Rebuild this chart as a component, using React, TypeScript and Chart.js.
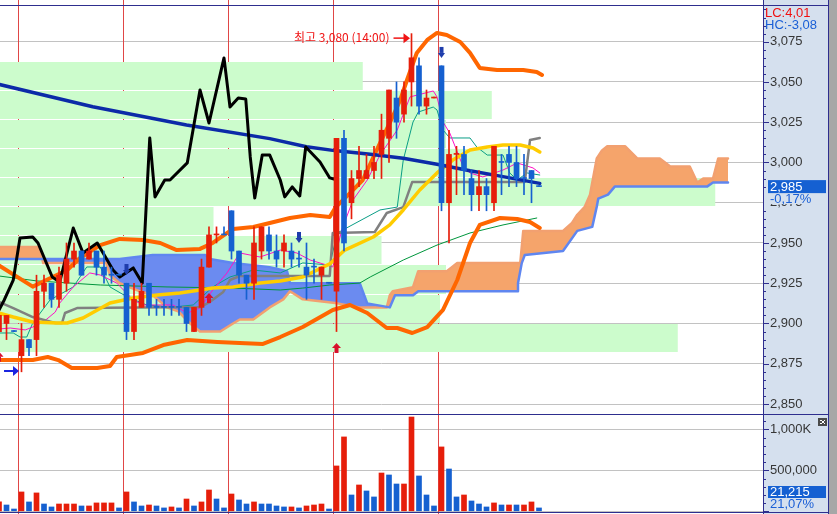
import React, { useEffect, useRef } from 'react';
import { Chart, registerables } from 'chart.js';

Chart.register(...registerables);

// ---------------- data ----------------
const opens = [2895, 2900, 2895, 2880, 2890, 2890, 2920, 2925, 2915, 2925,
  2940, 2945, 2940, 2945, 2935, 2930, 2930, 2925, 2895, 2910,
  2925, 2910, 2910, 2910, 2910, 2910, 2895, 2910, 2935, 2955,
  2955, 2970, 2945, 2930, 2925, 2945, 2955, 2945, 2945, 2945,
  2940, 2935, 2935, 2930, 2925, 2920, 3015, 2975, 2990, 2990,
  2995, 3005, 3015, 3040, 3030, 3050, 3060, 3035, 3040, 3060,
  2975, 3005, 3005, 2990, 2980, 2985, 2975, 3000, 3005, 3000,
  2990, 2995, 2985];
const highs = [2910, 2905, 2895, 2900, 2890, 2930, 2930, 2925, 2935, 2950,
  2950, 2945, 2950, 2945, 2945, 2935, 2930, 2925, 2925, 2925,
  2925, 2915, 2915, 2915, 2915, 2910, 2910, 2940, 2960, 2960,
  2960, 2970, 2945, 2930, 2960, 2960, 2960, 2955, 2955, 2950,
  2945, 2950, 2940, 2935, 2925, 3015, 3020, 2995, 3010, 3005,
  3010, 3030, 3045, 3050, 3050, 3080, 3065, 3045, 3040, 3060,
  3020, 3010, 3010, 2995, 2995, 2990, 3010, 3005, 3010, 3010,
  3005, 2995, 2985];
const lows = [2890, 2890, 2895, 2870, 2880, 2880, 2910, 2910, 2910, 2920,
  2935, 2930, 2940, 2930, 2925, 2925, 2930, 2890, 2890, 2910,
  2905, 2905, 2905, 2905, 2905, 2895, 2895, 2905, 2935, 2950,
  2955, 2940, 2925, 2915, 2915, 2940, 2940, 2935, 2935, 2935,
  2935, 2915, 2925, 2915, 2925, 2895, 2945, 2965, 2985, 2990,
  2990, 2990, 3000, 3015, 3025, 3035, 3030, 3030, 3040, 2970,
  2950, 2980, 2980, 2970, 2970, 2970, 2970, 2980, 2985, 2985,
  2980, 2975, 2985];
const closes = [2905, 2905, 2895, 2890, 2885, 2920, 2925, 2915, 2930, 2940,
  2945, 2930, 2945, 2935, 2930, 2930, 2930, 2895, 2915, 2920,
  2910, 2910, 2910, 2910, 2910, 2900, 2910, 2935, 2955, 2955,
  2955, 2945, 2930, 2925, 2950, 2960, 2945, 2940, 2950, 2940,
  2940, 2930, 2935, 2935, 2925, 3015, 2950, 2990, 2995, 2995,
  3000, 3020, 3045, 3025, 3045, 3065, 3035, 3040, 3040, 2975,
  3005, 3005, 2995, 2980, 2985, 2980, 3010, 3000, 3000, 2990,
  2990, 2990, 2985];
const redDojiBars = [29, 58, 61];

// volume, thousand shares
const volumes = [114, 77, 28, 236, 114, 224, 89, 53, 89, 89,
  89, 65, 65, 102, 102, 102, 41, 236, 114, 65,
  77, 65, 41, 53, 41, 150, 65, 114, 260, 150,
  41, 211, 138, 89, 114, 89, 89, 65, 53, 53,
  41, 65, 77, 89, 28, 553, 907, 199, 321, 248,
  175, 467, 443, 333, 333, 1150, 431, 199, 65, 785,
  516, 175, 199, 126, 89, 53, 102, 77, 77, 77,
  77, 114, 41];
const volumeSides = ('RBBRBRBBRR' + 'RBRRRRBRBB' + 'RBBRBRBRRB' + 'BRBBRBBBBR' +
  'BRRRBRRBRB' + 'BRBBRRBBBR' + 'BBRBBBRBRB' + 'RRB').split('');

const priceTicks = [2850, 2875, 2900, 2925, 2950, 2975, 3000, 3025, 3050, 3075];
const volumeTicks = [0, 500, 1000];
const sessionStartBars = [3, 17, 31, 45, 59];

// volume-at-price bands: price edges (top to bottom) and reach on the bar axis
const profileEdges = [3063.2, 3045.1, 3027.1, 3009.0, 2990.9, 2972.8, 2954.8, 2936.7, 2918.6, 2900.6, 2882.5];
const profileReach = [48.5, 65.7, 59.6, 69.5, 95.5, 28.6, 51.0, 59.6, 58.8, 90.5];

// overlay lines: [bar position, price]
const maLong = [[0, 3048.5], [12.5, 3034.6], [25, 3023.3], [36.1, 3014.8], [41, 3009.8], [45, 3007.2],
  [49.5, 3005.1], [53.9, 3002.6], [58.4, 2998.9], [62.8, 2994.8], [67.2, 2991.2], [72.1, 2987.0]];
const blackLine = [[0, 2908.4], [0.7, 2914.6], [1.9, 2927], [2.8, 2953.1], [4.5, 2953.7], [5.2, 2950],
  [7.1, 2928.9], [8.1, 2925.8], [9.9, 2959.3], [11.2, 2943.8], [13.1, 2950], [15.2, 2933.2],
  [16.1, 2928.9], [17.9, 2934.5], [19.1, 2925.1], [19.7, 2979.8], [20.1, 3015.2], [20.8, 2978.6],
  [22.1, 2989.1], [22.8, 2989.1], [25.1, 2999.7], [26.8, 3045], [28, 3024.5], [30, 3064.9],
  [30.8, 3034.4], [31.9, 3040], [32.9, 3039.4], [33.5, 3003.4], [34.1, 2977.9], [35.1, 3004.6],
  [36.1, 3004.6], [37.5, 2989.1], [38.1, 2978.6], [39.1, 2984.8], [40.1, 2979.2], [40.9, 3009.6],
  [42.8, 3000.3], [44.1, 2990.4], [45.1, 2989.1]];
const bollUpper = [[0, 2936], [4.5, 2922.9], [9.1, 2933.2], [10.8, 2940.7], [13.5, 2948.7], [16.1, 2952.5],
  [19.2, 2951.9], [21.5, 2950], [23.7, 2945.6], [26.8, 2946.3], [28.5, 2950], [31.2, 2958.7],
  [33.9, 2959.9], [36.1, 2962.4], [38.8, 2965.5], [41.5, 2967.4], [44.1, 2966.1], [44.9, 2972.3],
  [46.8, 2981], [48.5, 2989.1], [50.8, 3012.1], [52.1, 3024.5], [53.5, 3038.8], [54.4, 3051.2],
  [55.7, 3068], [57.1, 3076.1], [58.4, 3080.4], [59.7, 3079.2], [61.5, 3074.8], [62.8, 3068],
  [64.1, 3058.7], [66.4, 3057.4], [69.9, 3057.4], [71.7, 3056.2], [72.4, 3054.3]];
const bollLower = [[0, 2877.3], [4.5, 2877.3], [6.5, 2879.2], [7.9, 2877.3], [9.7, 2872.4], [13.1, 2872.4],
  [14.8, 2873.6], [15.7, 2879.2], [19.2, 2881.7], [21.9, 2886.6], [25.1, 2889.7], [29.1, 2888.5],
  [32.1, 2887.9], [35.2, 2887.3], [37.5, 2891.6], [40.5, 2897.8], [44.5, 2908.4], [46.8, 2911.5],
  [49.1, 2906.5], [51.7, 2897.2], [53.1, 2897.2], [55.1, 2894.1], [57.1, 2897.8], [59.2, 2908.4],
  [61.1, 2927], [62.8, 2950], [64.1, 2961.2], [66.8, 2965.5], [69.1, 2964.9], [70.8, 2963], [72.1, 2959.3]];
const ma20 = [[0, 2906.5], [1.9, 2904], [4.5, 2900.9], [7.7, 2900.3], [9.1, 2900.3], [11.2, 2903.4],
  [14.8, 2912.7], [17.9, 2915.8], [21.1, 2917.7], [24.1, 2918.9], [26.8, 2920.8], [28.5, 2922],
  [31.2, 2922.7], [34.8, 2925.1], [37.5, 2926.4], [40.5, 2928.9], [44.1, 2937], [46.1, 2945.6],
  [49.9, 2953.7], [52.1, 2961.2], [53.9, 2970.5], [56.1, 2982.9], [58.4, 2993.5], [60.5, 3001.5],
  [62.8, 3007.7], [65.1, 3009.6], [67.2, 3010.8], [69.5, 3010.8], [71.2, 3009], [72.1, 3006.5]];
const baseLine = [[0, 2913.4], [1.9, 2909.6], [4.5, 2904], [7.5, 2900.3], [8.4, 2900.3], [8.8, 2906.5],
  [10.4, 2909.6], [26.8, 2910.2], [28.1, 2913.3], [29.9, 2919.6], [30.8, 2927], [32.1, 2929.5],
  [44.1, 2929.5], [44.5, 2956.2], [50.1, 2956.8], [51.7, 2968.6], [53.9, 2972.3], [55.1, 2987.9],
  [70.1, 2987.9], [70.8, 3013.9], [72.1, 3015.2]];
const ma60 = [[0, 2929.5], [5.1, 2926.4], [13.5, 2923.9], [22.4, 2922.7], [31.2, 2922], [37.5, 2920.8],
  [40.5, 2922], [44.1, 2923.9], [48.1, 2925.1], [49.5, 2928.9], [53.9, 2939.4], [58.4, 2948.7],
  [62.8, 2956.2], [67.2, 2961.2], [71.7, 2965.5]];
const ma5 = [[0, 2896.6], [1.5, 2897.2], [3.5, 2896], [4.5, 2897.8], [5.9, 2900.9], [7.5, 2907.1],
  [8.1, 2912.7], [9.9, 2922.7], [12.1, 2931.4], [13.5, 2930.1], [15.7, 2925.1], [17.9, 2914.6],
  [19.2, 2911.5], [23.2, 2911.5], [25.1, 2906.5], [26.8, 2909.6], [28.5, 2920.8], [30.4, 2931.4],
  [32.1, 2943.8], [34.8, 2941.3], [37.5, 2945.6], [39.7, 2943.8], [41.5, 2939.4], [43.7, 2936.3],
  [44.5, 2935.1], [45.7, 2958.1], [47.2, 2976.7], [49.1, 2989.1], [50.8, 3004.6], [53.1, 3020.2],
  [54.8, 3040.7], [57.9, 3044.4], [58.4, 3040.7], [59.2, 3025.1], [60.1, 3018.3], [61.9, 2997.2],
  [62.8, 2993.5], [64.5, 2991], [67.2, 2995.3], [69.1, 2999.7], [71.2, 2996.6], [72.1, 2993.5]];
const ma10 = [[0, 2894.1], [1.9, 2894.1], [2.8, 2891.6], [3.7, 2891.6], [4.5, 2900.3], [6.8, 2914.6],
  [9.9, 2922.7], [11.7, 2935.1], [13.5, 2935.1], [14.8, 2922.7], [17.1, 2916.5], [19.7, 2911.5],
  [23.2, 2910.2], [25.9, 2911.5], [28.5, 2922.7], [30.8, 2928.9], [33.9, 2933.2], [37.5, 2931.4],
  [40.5, 2937.6], [44.1, 2936.3], [45.1, 2956.2], [50.8, 2970.5], [53.1, 2972.3], [53.9, 3001.5],
  [55.2, 3025.1], [55.9, 3031.3], [57.9, 3034.4], [58.4, 3032.6], [59.2, 3020.2], [60.1, 3015.2],
  [62.8, 3015.2], [63.7, 3009.6], [65.1, 3004.6], [67.2, 3004.6], [68.1, 2993.5], [69.1, 2989.1],
  [70.4, 2993.5], [72.1, 2992.2]];
// cloud spans
const spanS = [[0, 2947.5], [5.4, 2947.5], [5.9, 2937.5], [14.3, 2937.5], [14.8, 2930], [16.1, 2925],
  [18.8, 2920], [20.5, 2917.5], [22.4, 2910], [23.9, 2907.5], [25.5, 2900], [26.8, 2895], [29.5, 2895],
  [31.2, 2900], [32.1, 2902.5], [33.9, 2902.5], [36.1, 2910], [37.9, 2915], [38.8, 2920], [40.5, 2915],
  [45.1, 2912.5], [48.1, 2910], [51.7, 2910], [52.1, 2917.5], [52.5, 2920], [55.2, 2922.5],
  [55.9, 2932.5], [59.7, 2932.5], [61.1, 2937.5], [69.5, 2937.5], [69.9, 2957.5], [75.2, 2957.5],
  [76.4, 2962.5], [77.1, 2967.5], [78.1, 2972.5], [78.8, 2980], [79.7, 3002.5], [80.4, 3007.5],
  [81.1, 3010], [83.5, 3010], [85.1, 3002.5], [88.1, 3002.5], [89.5, 2997.5], [92.1, 2997.5],
  [93.1, 2987.5], [93.9, 2990], [95.2, 2990], [95.9, 3002.5], [97.2, 3002.5]];
const spanB = [[0, 2940], [16.1, 2940], [20.5, 2942.5], [27.5, 2942.5], [28.1, 2940], [31.2, 2937.5],
  [36.1, 2935], [38.4, 2932.5], [38.8, 2925], [48.1, 2925], [49.1, 2912.5], [52.1, 2910],
  [52.8, 2917.5], [55.2, 2917.5], [55.9, 2920], [69.1, 2920], [69.2, 2925], [69.7, 2937.5],
  [70.1, 2942.5], [75.2, 2945], [77.1, 2957.5], [79.1, 2960], [79.7, 2972.5], [79.9, 2977.5],
  [81.2, 2980], [82.1, 2985], [94.4, 2985], [95.2, 2987.5], [97.2, 2987.5]];

// signal arrows: [bar position, price of arrow tip]
const upArrows = [[0, 2882.5], [28, 2918.9], [45, 2887.9]];
const downArrows = [[17, 2930.1], [40, 2950.0], [59, 3064.9]];
const rightArrows = [[2.67, 2870.5]];

const highNote = '최고 3,080 (14:00)';
const lcText = 'LC:4,01';
const hcText = 'HC:-3,08';
const lastPriceText = '2,985';
const lastChangeText = '-0,17%';
const lastVolumeText = '21,215';
const volumeRatioText = '21,07%';

// ---------------- styles ----------------
const X_MIN = 0.13333;
const X_MAX = 101.86667;
const AXIS_W = 74;
const PANEL_BG = '#d5e0ee';
const NAVY = '#2e2e8e';
const RED = '#e61e0a';
const BLUE = '#1560d0';
const AXIS_FONT = '"Liberation Sans", Arial, sans-serif';
const AXIS_SIZE = 13;

const pts = (arr: number[][]) => arr.map(([x, y]) => ({ x, y }));
const isUp = (i: number) => closes[i] > opens[i] || (closes[i] === opens[i] && redDojiBars.includes(i));

function lineDs(label: string, arr: number[][], color: string, width: number, order: number, extra: any = {}) {
  return {
    type: 'line', label, data: pts(arr), borderColor: color, borderWidth: width,
    pointRadius: 0, tension: 0, fill: false, order, borderJoinStyle: 'round', borderCapStyle: 'round',
    ...extra,
  };
}

function yAxis(min: number, max: number, ticks: number[], fmt: (v: number) => string) {
  return {
    type: 'linear', position: 'right', min, max,
    afterBuildTicks: (s: any) => { s.ticks = ticks.map((v) => ({ value: v })); },
    afterFit: (s: any) => { s.width = AXIS_W; s.paddingTop = 0; s.paddingBottom = 0; },
    grid: { color: '#c2c2c2', lineWidth: 1, drawTicks: false },
    border: { display: true, color: NAVY, width: 1 },
    ticks: { padding: 7, color: '#363636', autoSkip: false, font: { family: AXIS_FONT, size: AXIS_SIZE }, callback: (v: any) => fmt(Number(v)) },
  };
}

function drawPanel(chart: any) {
  const { ctx, width, height, chartArea } = chart;
  ctx.save();
  ctx.fillStyle = '#ffffff';
  ctx.fillRect(0, 0, width, height);
  ctx.fillStyle = PANEL_BG;
  ctx.fillRect(chartArea.right, 0, 828 - chartArea.right, height);
  ctx.fillStyle = '#a7a7a7';
  ctx.fillRect(829, 0, width - 829, height);
  ctx.fillStyle = NAVY;
  ctx.fillRect(828, 0, 1, height);
  ctx.restore();
}

function drawSessions(chart: any) {
  const { ctx, chartArea, scales } = chart;
  ctx.save();
  ctx.strokeStyle = '#e04646';
  ctx.lineWidth = 1;
  sessionStartBars.forEach((b) => {
    const px = Math.floor(scales.x.getPixelForValue(b - 0.43)) + 0.5;
    ctx.beginPath();
    ctx.moveTo(px, 0);
    ctx.lineTo(px, chartArea.bottom);
    ctx.stroke();
  });
  ctx.restore();
}

function drawTicks(chart: any, step: number, major: number) {
  const { ctx, chartArea, scales } = chart;
  const y = scales.y;
  ctx.save();
  ctx.strokeStyle = NAVY;
  ctx.lineWidth = 1;
  for (let v = Math.ceil(y.min / step) * step; v <= y.max; v += step) {
    const py = Math.round(y.getPixelForValue(v)) + 0.5;
    if (py < 7 || py > chartArea.bottom - 2) continue;
    const len = Math.abs(v % major) < 1e-6 ? 6 : 3;
    ctx.beginPath();
    ctx.moveTo(chartArea.right, py);
    ctx.lineTo(chartArea.right + len, py);
    ctx.stroke();
  }
  ctx.restore();
}

function tri(ctx: any, a: number[], b: number[], c: number[]) {
  ctx.beginPath();
  ctx.moveTo(a[0], a[1]);
  ctx.lineTo(b[0], b[1]);
  ctx.lineTo(c[0], c[1]);
  ctx.closePath();
  ctx.fill();
}

const pricePlugin = {
  id: 'pricePanel',
  beforeDraw: (chart: any) => drawPanel(chart),
  beforeDatasetsDraw: (chart: any) => {
    const { ctx, scales } = chart;
    drawSessions(chart);
    ctx.save();
    ctx.fillStyle = '#ccfccc';
    profileReach.forEach((reach, k) => {
      const top = scales.y.getPixelForValue(profileEdges[k]);
      const bot = scales.y.getPixelForValue(profileEdges[k + 1]);
      const right = scales.x.getPixelForValue(reach);
      ctx.fillRect(0, Math.round(top) + 1, right, Math.round(bot) - Math.round(top) - 1);
    });
    ctx.restore();
  },
  afterDatasetsDraw: (chart: any) => {
    const { ctx, scales } = chart;
    const x = scales.x, y = scales.y;
    ctx.save();
    ctx.fillStyle = '#d8102c';
    upArrows.forEach(([b, p]) => {
      const px = x.getPixelForValue(b), py = y.getPixelForValue(p);
      tri(ctx, [px - 4.5, py + 5], [px + 4.5, py + 5], [px, py]);
      ctx.fillRect(px - 2, py + 5, 4, 5);
    });
    ctx.fillStyle = '#1f3dac';
    downArrows.forEach(([b, p]) => {
      const px = x.getPixelForValue(b), py = y.getPixelForValue(p);
      ctx.fillRect(px - 2, py - 11, 4, 6);
      tri(ctx, [px - 3.5, py - 5], [px + 3.5, py - 5], [px, py]);
    });
    ctx.fillStyle = '#1a24e0';
    rightArrows.forEach(([b, p]) => {
      const px = x.getPixelForValue(b), py = y.getPixelForValue(p);
      ctx.fillRect(px - 15, py - 1, 10, 2);
      tri(ctx, [px - 6, py - 5], [px - 6, py + 5], [px, py]);
    });
    // highest high note
    let hi = 0;
    highs.forEach((h, i) => { if (h > highs[hi]) hi = i; });
    const hx = x.getPixelForValue(hi);
    const hy = y.getPixelForValue(highs[hi]) + 4.5;
    ctx.fillStyle = '#f01414';
    ctx.strokeStyle = '#f01414';
    ctx.lineWidth = 1.5;
    ctx.beginPath();
    ctx.moveTo(hx - 18, hy);
    ctx.lineTo(hx - 6, hy);
    ctx.stroke();
    tri(ctx, [hx - 8, hy - 5], [hx - 8, hy + 5], [hx - 1.5, hy]);
    ctx.font = '12px "Noto Sans CJK KR", sans-serif';
    ctx.textAlign = 'right';
    ctx.textBaseline = 'middle';
    ctx.fillText(highNote, hx - 22, hy - 1);
    // top frame line
    ctx.fillStyle = NAVY;
    ctx.fillRect(0, 5, 828, 1);
    ctx.restore();
  },
  afterDraw: (chart: any) => {
    const { ctx, chartArea, scales } = chart;
    drawTicks(chart, 5, 25);
    const left = chartArea.right;
    ctx.save();
    ctx.font = `${AXIS_SIZE}px ${AXIS_FONT}`;
    ctx.textBaseline = 'middle';
    ctx.textAlign = 'left';
    ctx.fillStyle = '#f01010';
    ctx.fillText(lcText, left + 2, 13);
    ctx.fillStyle = '#1a5fd6';
    ctx.fillText(hcText, left + 2, 25);
    const py = scales.y.getPixelForValue(closes[closes.length - 1]);
    ctx.fillStyle = PANEL_BG;
    ctx.fillRect(left + 1, py + 6.5, 63, 11);
    ctx.fillStyle = '#1560d2';
    ctx.fillRect(left + 5, py - 6.5, 58, 13);
    ctx.fillStyle = '#ffffff';
    ctx.fillText(lastPriceText, left + 7, py + 0.5);
    ctx.fillStyle = '#1a5fd6';
    ctx.fillText(lastChangeText, left + 7, py + 12.5);
    ctx.restore();
  },
};

const volumePlugin = {
  id: 'volumePanel',
  beforeDraw: (chart: any) => drawPanel(chart),
  beforeDatasetsDraw: (chart: any) => drawSessions(chart),
  afterDraw: (chart: any) => {
    const { ctx, chartArea, scales } = chart;
    drawTicks(chart, 100, 500);
    const left = chartArea.right;
    ctx.save();
    ctx.fillStyle = NAVY;
    ctx.fillRect(0, 0, 829, 1);
    ctx.fillRect(0, 98, 829, 1);
    const vy = Math.min(scales.y.getPixelForValue(volumes[volumes.length - 1]), chartArea.bottom - 22);
    ctx.fillStyle = '#1560d2';
    ctx.fillRect(left + 5, vy - 6, 58, 12);
    ctx.font = `${AXIS_SIZE}px ${AXIS_FONT}`;
    ctx.textBaseline = 'middle';
    ctx.textAlign = 'left';
    ctx.fillStyle = '#ffffff';
    ctx.fillText(lastVolumeText, left + 7, vy + 0.5);
    ctx.fillStyle = '#1a5fd6';
    ctx.fillText(volumeRatioText, left + 7, vy + 12);
    // small panel icon
    ctx.fillStyle = '#4a4a4a';
    ctx.fillRect(818, 4, 9, 8);
    ctx.fillStyle = '#ffffff';
    ctx.fillRect(820, 6, 2, 1); ctx.fillRect(822, 7, 2, 2); ctx.fillRect(824, 9, 1, 1);
    ctx.fillRect(824, 6, 1, 1); ctx.fillRect(820, 9, 2, 1);
    ctx.restore();
  },
};

function priceConfig(): any {
  const wicks = opens.map((_, i) => ({ x: i, y: [lows[i], highs[i]] }));
  const bodies = opens.map((o, i) => ({ x: i, y: [Math.min(o, closes[i]), Math.max(o, closes[i])] }));
  const colors = opens.map((_, i) => (isUp(i) ? RED : BLUE));
  return {
    type: 'line',
    data: {
      datasets: [
        lineDs('spanS', spanS, '#f2a070', 2.5, 30, { fill: { target: '+1', above: '#f5a46b', below: '#6b8bf0' } }),
        lineDs('spanB', spanB, '#5f86f0', 2.5, 29),
        lineDs('ma60', ma60, '#00963c', 1, 25),
        lineDs('ma10', ma10, '#0a9e86', 1, 24),
        lineDs('ma5', ma5, '#ff10c8', 1, 23),
        lineDs('base', baseLine, '#808080', 2.5, 22),
        lineDs('ma20', ma20, '#ffcc00', 3.5, 21),
        lineDs('bollUpper', bollUpper, '#ff6600', 4, 20),
        lineDs('bollLower', bollLower, '#ff6600', 4, 20),
        lineDs('maLong', maLong, '#0c2aa8', 3.5, 19),
        lineDs('black', blackLine, '#000000', 3, 18),
        { type: 'bar', label: 'wick', data: wicks, backgroundColor: colors, barThickness: 1, minBarLength: 1, grouped: false, order: 5, borderWidth: 0 },
        { type: 'bar', label: 'body', data: bodies, backgroundColor: colors, barThickness: 5, minBarLength: 1, grouped: false, order: 4, borderWidth: 0 },
      ],
    },
    options: {
      responsive: false, maintainAspectRatio: false, animation: false, devicePixelRatio: 1, events: [],
      layout: { padding: 0 },
      plugins: { legend: { display: false }, tooltip: { enabled: false } },
      scales: {
        x: { type: 'linear', display: false, min: X_MIN, max: X_MAX, offset: false, grid: { display: false } },
        y: yAxis(2843.8, 3100.88, priceTicks, (v) => v.toLocaleString('en-US')),
      },
    },
    plugins: [pricePlugin],
  };
}

function volumeConfig(): any {
  return {
    type: 'bar',
    data: {
      datasets: [{
        label: 'volume', data: volumes.map((v, i) => ({ x: i, y: v })),
        backgroundColor: volumeSides.map((s) => (s === 'R' ? RED : BLUE)),
        barThickness: 5, grouped: false, borderWidth: 0,
      }],
    },
    options: {
      responsive: false, maintainAspectRatio: false, animation: false, devicePixelRatio: 1, events: [],
      layout: { padding: 0 },
      plugins: { legend: { display: false }, tooltip: { enabled: false } },
      scales: {
        x: { type: 'linear', display: false, min: X_MIN, max: X_MAX, offset: false, grid: { display: false } },
        y: yAxis(-32.9, 1186.6, volumeTicks, (v) => (v === 1000 ? '1,000K' : v === 500 ? '500,000' : '')),
      },
    },
    plugins: [volumePlugin],
  };
}

export default function App() {
  const priceRef = useRef<HTMLCanvasElement>(null);
  const volRef = useRef<HTMLCanvasElement>(null);
  useEffect(() => {
    const pc = new Chart(priceRef.current as HTMLCanvasElement, priceConfig());
    const vc = new Chart(volRef.current as HTMLCanvasElement, volumeConfig());
    return () => { pc.destroy(); vc.destroy(); };
  }, []);
  return (
    <div style={{ position: 'absolute', left: 0, top: 0, width: 837, height: 514, background: '#fff', overflow: 'hidden' }}>
      <canvas ref={priceRef} width={837} height={414} style={{ position: 'absolute', left: 0, top: 0, width: 837, height: 414 }} />
      <canvas ref={volRef} width={837} height={100} style={{ position: 'absolute', left: 0, top: 414, width: 837, height: 100 }} />
    </div>
  );
}
